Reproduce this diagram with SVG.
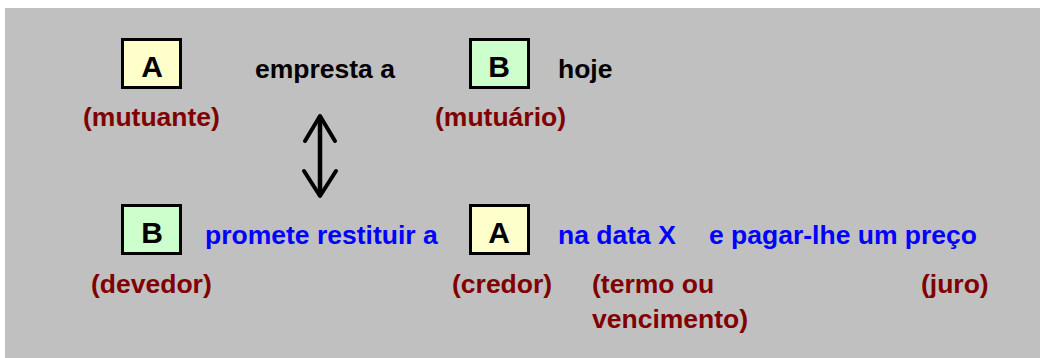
<svg xmlns="http://www.w3.org/2000/svg" width="1040" height="358" viewBox="0 0 1040 358">
<style>
text{font-family:"Liberation Sans",Arial,sans-serif;font-weight:bold;font-size:26.5px}
.k{fill:#000}
.r{fill:#800000}
.b{fill:#0000FF}
.box{stroke:#000;stroke-width:3}
.ya{fill:#FFFFCC}
.gb{fill:#CCFFCC}
.lbl{text-anchor:middle;fill:#000;font-size:30px}
</style>
<rect x="5" y="8" width="1035" height="350" fill="#C0C0C0"/>
<g id="nodeA1">
<rect class="box ya" x="122.5" y="39.5" width="58" height="48"/>
<text class="lbl" x="152" y="77">A</text>
</g>
<g id="nodeB1">
<rect class="box gb" x="470.5" y="39.5" width="58" height="48"/>
<text class="lbl" x="499" y="77">B</text>
</g>
<g id="nodeB2">
<rect class="box gb" x="122.5" y="205.5" width="58" height="48"/>
<text class="lbl" x="152" y="243">B</text>
</g>
<g id="nodeA2">
<rect class="box ya" x="470.5" y="205.5" width="58" height="48"/>
<text class="lbl" x="499" y="243">A</text>
</g>
<g id="labels">
<text class="k" x="255" y="78">empresta a</text>
<text class="k" x="558" y="78">hoje</text>
<text class="r" x="83" y="126">(mutuante)</text>
<text class="r" x="435" y="126">(mutuário)</text>
<text class="b" x="205" y="244">promete restituir a</text>
<text class="b" x="558" y="244">na data X</text>
<text class="b" x="709" y="244">e pagar-lhe um preço</text>
<text class="r" x="91" y="293">(devedor)</text>
<text class="r" x="452" y="293">(credor)</text>
<text class="r" x="592" y="293">(termo ou</text>
<text class="r" x="592" y="328">vencimento)</text>
<text class="r" x="921" y="293">(juro)</text>
</g>
<g id="connectors" fill="none" stroke="#000" stroke-linecap="round" stroke-linejoin="round">
<line x1="320" y1="117" x2="320" y2="195" stroke-width="4.5"/>
<polyline points="305,141 320,116 335,141" stroke-width="4"/>
<polyline points="304,171 320,196 336,171" stroke-width="4"/>
</g>
</svg>
